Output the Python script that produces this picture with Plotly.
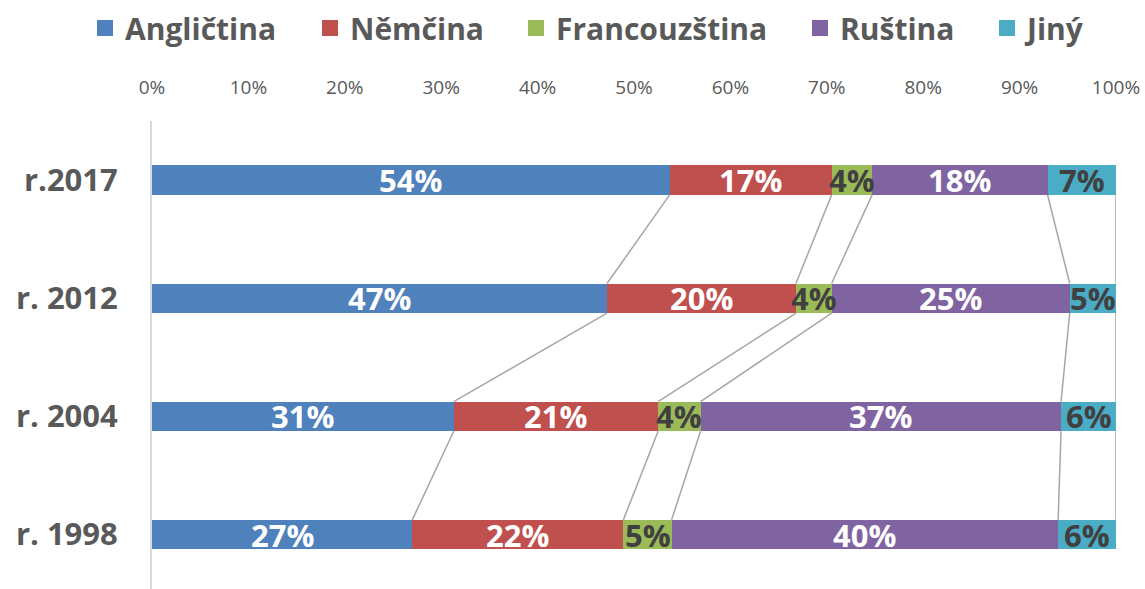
import plotly.graph_objects as go

years = ["r.2017", "r. 2012", "r. 2004", "r. 1998"]
languages = ["Angličtina", "Němčina", "Francouzština", "Ruština", "Jiný"]
anglictina = [53.7, 47.2, 31.3, 27.0]
nemcina = [16.8, 19.6, 21.2, 21.9]
francouzstina = [4.2, 3.7, 4.4, 5.0]
rustina = [18.2, 24.7, 37.4, 40.1]
jiny = [7.1, 4.8, 5.7, 6.0]
x_ticks = [0, 10, 20, 30, 40, 50, 60, 70, 80, 90, 100]
x_tick_labels = ["0%", "10%", "20%", "30%", "40%", "50%", "60%", "70%", "80%", "90%", "100%"]

series = [anglictina, nemcina, francouzstina, rustina, jiny]
colors = ["#4F81BD", "#C0504D", "#9BBB59", "#8064A2", "#4BACC6"]
text_colors = ["white", "white", "#404040", "white", "#404040"]
legend_x_px = [85, 310, 516, 800, 987]
FONT = "Open Sans"
BAR_W = 0.25
W, H = 1145, 589
ypos = list(range(len(years)))

fig = go.Figure()
for name, vals, c in zip(languages, series, colors):
    fig.add_trace(go.Bar(
        name=name, y=ypos, x=vals, orientation="h", width=BAR_W,
        marker=dict(color=c, line=dict(width=0)),
        showlegend=False, hoverinfo="skip",
    ))

# legend-only entries (one legend per entry for exact placement)
legend_layouts = {}
for idx, (name, c, lx_px) in enumerate(zip(languages, colors, legend_x_px)):
    lname = "legend" if idx == 0 else f"legend{idx + 1}"
    fig.add_trace(go.Scatter(
        name=name, x=[None], y=[None], mode="markers", legend=lname,
        marker=dict(symbol="square", size=18, color=c), showlegend=True,
    ))
    legend_layouts[lname] = dict(
        orientation="h", xref="container", yref="container",
        x=lx_px / W, xanchor="left", y=1 - 28 / H, yanchor="middle",
        font=dict(family=FONT, size=30, color="#595959", weight="bold"),
        itemsizing="trace", itemwidth=30, bgcolor="rgba(0,0,0,0)",
    )

# cumulative boundaries
cums = []
for i in range(len(years)):
    s = 0
    row = []
    for vals in series:
        s += vals[i]
        row.append(s)
    cums.append(row)

# connector lines
lx, ly = [], []
for i in range(len(years) - 1):
    for k in range(len(series)):
        lx += [cums[i][k], cums[i + 1][k], None]
        ly += [i + BAR_W / 2, i + 1 - BAR_W / 2, None]
fig.add_trace(go.Scatter(x=lx, y=ly, mode="lines", line=dict(color="#A6A6A6", width=1.5),
                         showlegend=False, hoverinfo="skip"))

# value labels
for k, (vals, tc) in enumerate(zip(series, text_colors)):
    for i, v in enumerate(vals):
        fig.add_annotation(x=cums[i][k] - v / 2, y=i, text=f"{v:.0f}%", showarrow=False,
                           font=dict(family=FONT, size=31, color=tc, weight="bold"),
                           xanchor="center", yanchor="middle")

fig.update_layout(
    width=W, height=H, barmode="stack",
    plot_bgcolor="white", paper_bgcolor="white",
    margin=dict(l=152, r=29, t=121, b=0, autoexpand=False),
    font=dict(family=FONT, color="#595959"),
    showlegend=True,
    **legend_layouts,
)
fig.update_xaxes(side="top", range=[0, 100], tickvals=x_ticks, ticktext=x_tick_labels,
                 showgrid=False, zeroline=False, showline=False, automargin=False,
                 ticks="outside", ticklen=18, tickcolor="rgba(0,0,0,0)",
                 tickfont=dict(family=FONT, size=19, color="#595959"))
fig.update_yaxes(range=[3.46, -0.5], tickvals=ypos, ticktext=years, automargin=False,
                 showgrid=False, zeroline=False, showline=True, linecolor="#D9D9D9", linewidth=2,
                 ticks="outside", ticklen=26, tickcolor="rgba(0,0,0,0)",
                 tickfont=dict(family=FONT, size=31, color="#595959", weight="bold"))

fig.write_html("out.html", config={"displayModeBar": False},
               post_script="document.body.style.margin='0';document.body.style.padding='0';")
